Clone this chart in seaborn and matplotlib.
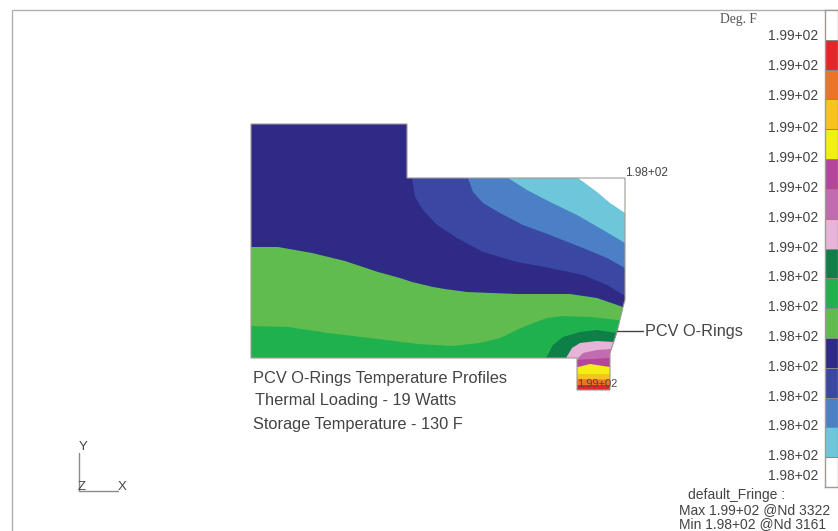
import matplotlib
matplotlib.use('Agg')
import matplotlib.pyplot as plt
from matplotlib.colors import ListedColormap
from matplotlib.patches import Polygon
import numpy as np
import seaborn as sns

sns.set_style('white')
plt.rcParams['font.family'] = ['Liberation Sans', 'DejaVu Sans']

# fringe legend, top to bottom
fringe_colors = ['#ffffff', '#e2272a', '#ec7427', '#f8c31c', '#f2ef14', '#b3459c', '#c06cae',
                 '#e6b4d8', '#0e7f47', '#20b14f', '#60bc4e', '#2f2a85', '#3a48a3', '#4b80c6',
                 '#6ec6da', '#ffffff']
fringe_labels = ['1.99+02'] * 8 + ['1.98+02'] * 8
label_y = [36, 66, 96, 128, 158, 188, 218, 248, 277, 307, 337, 367, 397, 426, 456, 476]

# part outline and fringe boundaries (pixels)
outline = [(251, 124), (407, 124), (407, 178), (625, 178), (625, 300), (623, 307), (617, 332),
           (610, 353), (610, 390), (577, 390), (577, 358), (251, 358)]
zone_white = [(578, 178), (597, 192), (610, 203), (625, 213), (630, 213), (630, 178)]
zone_cyan = [(508, 178), (527, 190), (550, 202), (577, 215), (603, 230), (625, 243), (630, 243),
             (630, 178)]
zone_midblue = [(468, 178), (473, 192), (483, 203), (500, 213), (523, 225), (550, 235), (583, 248),
                (607, 258), (625, 268), (630, 268), (630, 178)]
zone_blue = [(412, 178), (415, 197), (423, 210), (437, 225), (457, 238), (483, 252), (517, 262),
             (550, 268), (583, 275), (607, 285), (625, 296), (630, 296), (630, 178)]
zone_ltgreen = [(251, 247), (278, 247), (312, 253), (345, 261), (378, 272), (400, 278), (412, 282),
                (433, 287), (445, 289), (467, 292), (517, 294), (570, 294), (597, 298), (623, 307),
                (630, 307), (630, 395), (251, 395)]
zone_green = [(251, 326), (288, 327), (328, 333), (378, 339), (418, 344), (452, 346), (480, 343),
              (500, 338), (523, 327), (547, 318), (563, 316), (590, 317), (618, 320), (630, 320),
              (630, 395), (251, 395)]
zone_dkgreen = [(546, 358), (553, 345), (563, 337), (580, 332), (597, 330), (617, 333), (630, 333),
                (630, 395), (546, 395)]
zone_pink = [(566, 358), (572, 348), (580, 343), (597, 341), (613, 342), (630, 342), (630, 395),
             (566, 395)]
zone_mauve = [(578, 358), (583, 353), (597, 350), (612, 349), (630, 349), (630, 395), (578, 395)]
zone_purple = [(570, 360), (593, 359), (610, 358), (630, 358), (630, 395), (570, 395)]
zone_yellow = [(570, 367), (578, 367), (590, 364), (610, 367), (630, 367), (630, 395), (570, 395)]
zone_amber = [(570, 374), (630, 374), (630, 395), (570, 395)]
zone_orange = [(570, 379), (630, 380), (630, 395), (570, 395)]
zone_red = [(570, 385), (630, 385), (630, 395), (570, 395)]

zones = [(zone_blue, 12), (zone_midblue, 13), (zone_cyan, 14), (zone_white, 15), (zone_ltgreen, 10),
         (zone_green, 9), (zone_dkgreen, 8), (zone_pink, 7), (zone_mauve, 6), (zone_purple, 5),
         (zone_yellow, 4), (zone_amber, 3), (zone_orange, 2), (zone_red, 1)]

title_lines = ['PCV O-Rings Temperature Profiles', 'Thermal Loading - 19 Watts',
               'Storage Temperature - 130 F']
summary_lines = ['default_Fringe :', 'Max 1.99+02 @Nd 3322', 'Min 1.98+02 @Nd 3161']

fig = plt.figure(figsize=(8.38, 5.31), dpi=100)
ax = fig.add_axes([0, 0, 1, 1])
ax.set_xlim(0, 838)
ax.set_ylim(531, 0)
ax.axis('off')

# frame round the viewport
ax.plot([12, 12, 838], [531, 10, 10], color='#b0b0b0', lw=1)

# part
clip = Polygon(outline, closed=True, transform=ax.transData, fill=False, lw=0)
ax.add_patch(clip)
ax.fill(*zip(*outline), color=fringe_colors[11], lw=0)
for pts, idx in zones:
    patch = ax.fill(*zip(*pts), color=fringe_colors[idx], lw=0)[0]
    patch.set_clip_path(clip)
ax.add_patch(Polygon(outline, closed=True, fill=False, ec='#a09a96', lw=0.8))

# annotations on the part
ax.text(625, 172.5, '1.98+02', fontsize=8.5, color='#444444', ha='left', va='center')
ax.text(577, 384, '1.99+02', fontsize=8, color='#554433', ha='left', va='center')
ax.plot([617, 643], [331, 331], color='#444444', lw=1)
ax.text(645, 331.5, 'PCV O-Rings', fontsize=11.7, color='#444444', ha='left', va='center')
for line, x, y in zip(title_lines, [253, 255, 253], [378.5, 400.5, 424.5]):
    ax.text(x, y, line, fontsize=11.8, color='#444444', ha='left', va='center')

# triad
ax.plot([79, 79, 118], [453, 491, 491], color='#8a8a8a', lw=1)
ax.text(83, 447, 'Y', fontsize=9.5, color='#444444', ha='center', va='center')
ax.text(82, 487, 'Z', fontsize=9.5, color='#444444', ha='center', va='center')
ax.text(122, 487, 'X', fontsize=9.5, color='#444444', ha='center', va='center')

# legend texts
ax.text(720, 19, 'Deg. F', fontsize=9.8, family='Liberation Serif', color='#555555', va='center')
for lab, y in zip(fringe_labels, label_y):
    ax.text(818, y, lab, fontsize=10, color='#444444', ha='right', va='center')
for line, x, y in zip(summary_lines, [688, 679, 679], [495.5, 510.5, 524.5]):
    ax.text(x, y, line, fontsize=10, color='#444444', ha='left', va='center')

# fringe bar
cax = fig.add_axes([825 / 838, 1 - 487 / 531, 13 / 838, 477 / 531])
sns.heatmap(np.arange(len(fringe_colors)).reshape(-1, 1), ax=cax, cmap=ListedColormap(fringe_colors),
            cbar=False, xticklabels=False, yticklabels=False, linewidths=0.5, linecolor='#888888')
for s in cax.spines.values():
    s.set_visible(True)
    s.set_color('#a09a96')
    s.set_linewidth(1)

fig.savefig('out.png', dpi=100)
